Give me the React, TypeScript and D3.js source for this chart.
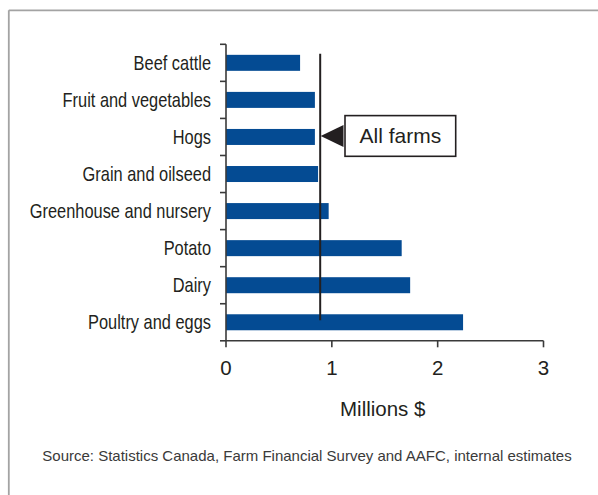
import React from "react";
import * as d3 from "d3";

const categories = [
  "Beef cattle",
  "Fruit and vegetables",
  "Hogs",
  "Grain and oilseed",
  "Greenhouse and nursery",
  "Potato",
  "Dairy",
  "Poultry and eggs",
];
const values = [0.7, 0.84, 0.84, 0.87, 0.97, 1.66, 1.74, 2.24];
const allFarms = 0.89;
const xTicks = [0, 1, 2, 3];
const annotationLabel = "All farms";
const xTitle = "Millions $";
const source =
  "Source: Statistics Canada, Farm Financial Survey and AAFC, internal estimates";

const W = 598;
const H = 495;
const left = 226;
const right = 543.5;
const top = 44.3;
const bottom = 340.8;
const barH = 16;
const blue = "#044b93";
const ink = "#231f20";
const axisColor = "#3a3a3a";
const sans = "'Liberation Sans', Arial, Helvetica, sans-serif";

export default function App() {
  const x = d3.scaleLinear().domain([0, 3]).range([left, right]);
  const y = d3.scaleBand<string>().domain(categories).range([top, bottom]).padding(0);
  const bw = y.bandwidth();
  const boundaries = categories.map((c) => y(c) as number).concat([bottom]);
  const ax = x(allFarms);
  const lineTop = (y(categories[0]) as number) + (bw - barH) / 2 - 1;
  const lineBottom = (y(categories[categories.length - 1]) as number) + bw / 2 - 2;
  const annY = (y("Hogs") as number) + bw / 2 - 1;
  const boxX = 345;
  const boxW = 110.7;
  const boxH = 40.7;

  return (
    <svg
      width={W}
      height={H}
      style={{ position: "absolute", left: 0, top: 0, background: "#fff" }}
    >
      {/* frame */}
      <line x1={8.8} y1={10.3} x2={W + 5} y2={10.3} stroke="#a3a3a3" strokeWidth={1.8} />
      <line x1={8.8} y1={10.3} x2={8.8} y2={H + 5} stroke="#a3a3a3" strokeWidth={1.8} />

      {/* bars */}
      {categories.map((c, i) => (
        <rect
          key={c}
          x={x(0)}
          y={(y(c) as number) + (bw - barH) / 2}
          width={x(values[i]) - x(0)}
          height={barH}
          fill={blue}
        />
      ))}

      {/* y axis */}
      <line x1={left} y1={top} x2={left} y2={bottom} stroke={axisColor} strokeWidth={1.6} />
      {boundaries.map((b, i) => (
        <line key={i} x1={left - 6} x2={left} y1={b} y2={b} stroke={axisColor} strokeWidth={1.6} />
      ))}
      {categories.map((c) => (
        <text
          key={c}
          transform={`translate(211, ${(y(c) as number) + bw / 2 + 7}) scale(0.82, 1)`}
          textAnchor="end"
          fontFamily={sans}
          fontSize={20}
          fill={ink}
        >
          {c}
        </text>
      ))}

      {/* x axis */}
      <line x1={left} y1={bottom} x2={right} y2={bottom} stroke={axisColor} strokeWidth={1.6} />
      {xTicks.map((t) => (
        <g key={t}>
          <line x1={x(t)} x2={x(t)} y1={bottom} y2={bottom + 6.5} stroke={axisColor} strokeWidth={1.6} />
          <text
            x={x(t)}
            y={375}
            textAnchor="middle"
            fontFamily={sans}
            fontSize={20.5}
            fill={ink}
          >
            {t}
          </text>
        </g>
      ))}
      <text
        x={(left + right) / 2 - 2}
        y={416}
        textAnchor="middle"
        fontFamily={sans}
        fontSize={20.5}
        fill={ink}
      >
        {xTitle}
      </text>

      {/* all farms line */}
      <line x1={ax} x2={ax} y1={lineTop} y2={lineBottom} stroke={ink} strokeWidth={2} />

      {/* annotation */}
      <path
        d={`M${ax + 0.5},${annY} L${boxX - 1.5},${annY - 11} L${boxX - 1.5},${annY + 11} Z`}
        fill={ink}
      />
      <rect
        x={boxX}
        y={annY - boxH / 2}
        width={boxW}
        height={boxH}
        fill="#fff"
        stroke={ink}
        strokeWidth={1.6}
      />
      <text
        x={boxX + boxW / 2}
        y={annY + 7.5}
        textAnchor="middle"
        fontFamily={sans}
        fontSize={21}
        fill={ink}
      >
        {annotationLabel}
      </text>

      {/* source */}
      <text x={42.3} y={461} fontFamily={sans} fontSize={15} fill="#3a3a3a">
        {source}
      </text>
    </svg>
  );
}
